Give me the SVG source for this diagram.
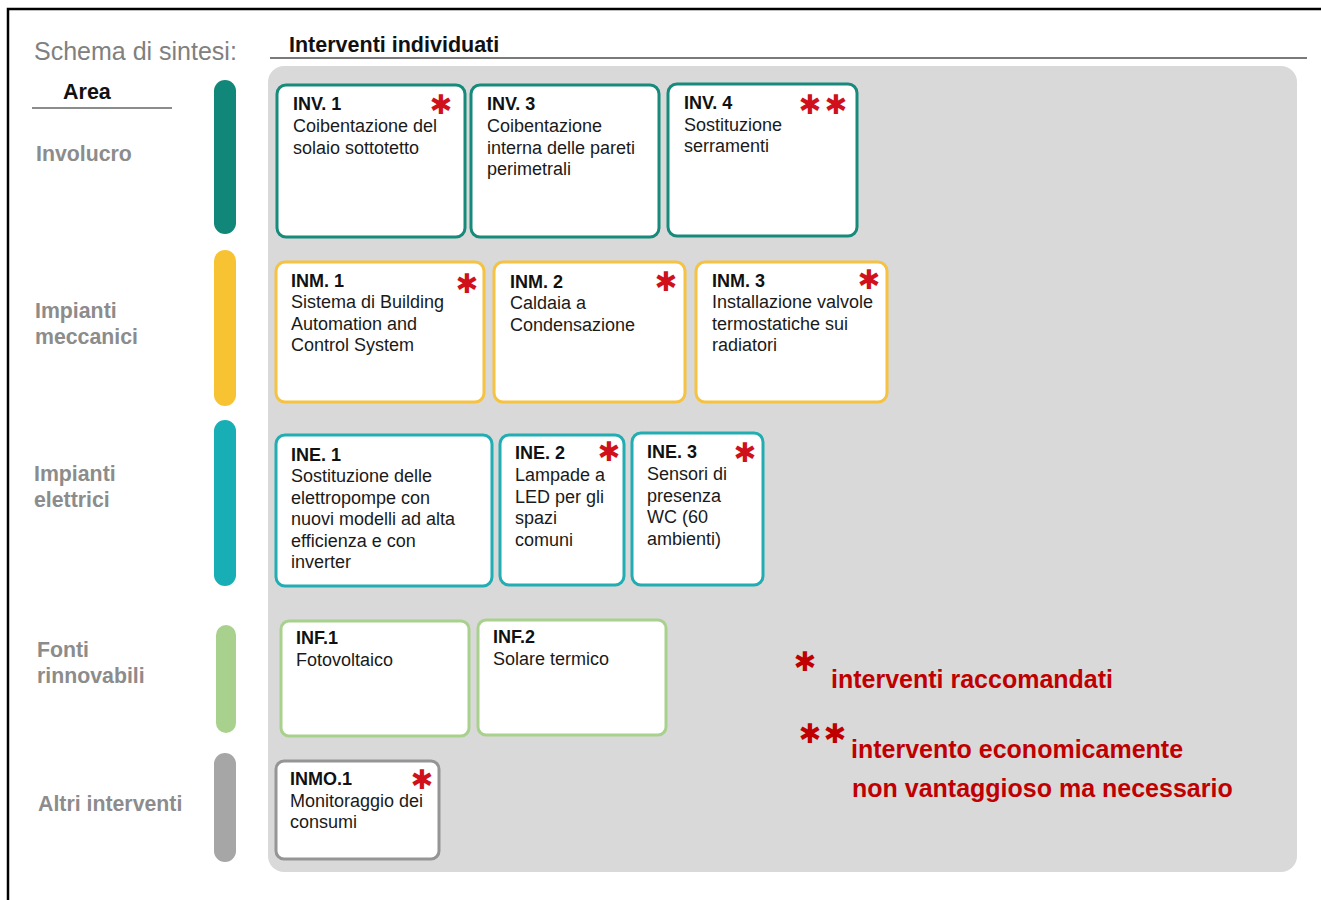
<svg xmlns="http://www.w3.org/2000/svg" width="1321" height="900" viewBox="0 0 1321 900">
<style>
text{font-family:"Liberation Sans",Arial,sans-serif}
.hdr{font-size:25px;fill:#808080}
.ttl{font-size:21.5px;font-weight:bold;fill:#111}
.area{font-size:21.3px;font-weight:bold;fill:#8c8c8c}
.b{font-size:18px;font-weight:bold;fill:#111}
.t{font-size:18px;fill:#1a1a1a}
.ast{font-family:"DejaVu Sans",sans-serif;font-size:27px;fill:#d0111b;text-anchor:middle;dominant-baseline:central}
.leg{font-size:25px;font-weight:bold;fill:#c00000}
.bx{fill:#fff;stroke-width:3}
.inv{stroke:#168a7b}.inm{stroke:#f5c242}.ine{stroke:#22adb3}.inf{stroke:#a9d18e}.inmo{stroke:#959595}
</style>
<rect width="1321" height="900" fill="#fff"/>
<path d="M8 900V9H1321" fill="none" stroke="#000" stroke-width="2.5"/>
<g id="header">
<text class="hdr" x="34" y="60">Schema di sintesi:</text>
<text class="ttl" x="289" y="52">Interventi individuati</text>
<line x1="270" y1="58" x2="1307" y2="58" stroke="#7a7a7a" stroke-width="2"/>
<text class="ttl" x="63" y="99">Area</text>
<line x1="32" y1="108" x2="172" y2="108" stroke="#666" stroke-width="1.5"/>
</g>
<rect id="panel" x="268" y="66" width="1029" height="806" rx="16" fill="#d9d9d9"/>
<g id="areas">
<rect x="214" y="80" width="22" height="154" rx="11" fill="#11877a"/>
<text class="area" x="36" y="161">Involucro</text>
<rect x="214" y="250" width="22" height="156" rx="11" fill="#f8c332"/>
<text class="area" x="35" y="318">Impianti</text>
<text class="area" x="35" y="344">meccanici</text>
<rect x="214" y="420" width="22" height="166" rx="11" fill="#17afb5"/>
<text class="area" x="34" y="481">Impianti</text>
<text class="area" x="34" y="507">elettrici</text>
<rect x="216" y="625" width="20" height="108" rx="10" fill="#a9d18e"/>
<text class="area" x="37" y="657">Fonti</text>
<text class="area" x="37" y="683">rinnovabili</text>
<rect x="214" y="753" width="22" height="109" rx="11" fill="#a6a6a6"/>
<text class="area" x="38" y="811">Altri interventi</text>
</g>
<g id="connectors"></g>
<g id="INV1"><rect class="bx inv" x="277" y="85" width="188" height="152" rx="9"/><text class="b" x="293" y="110">INV. 1</text><text class="t" x="293" y="132">Coibentazione del</text><text class="t" x="293" y="154">solaio sottotetto</text><text class="ast" x="441" y="104">✱</text></g>
<g id="INV3"><rect class="bx inv" x="471" y="85" width="188" height="152" rx="9"/><text class="b" x="487" y="110">INV. 3</text><text class="t" x="487" y="132">Coibentazione</text><text class="t" x="487" y="154">interna delle pareti</text><text class="t" x="487" y="175">perimetrali</text></g>
<g id="INV4"><rect class="bx inv" x="668" y="84" width="189" height="152" rx="9"/><text class="b" x="684" y="109">INV. 4</text><text class="t" x="684" y="131">Sostituzione</text><text class="t" x="684" y="152">serramenti</text><text class="ast" x="810" y="104">✱</text><text class="ast" x="836" y="104">✱</text></g>
<g id="INM1"><rect class="bx inm" x="276" y="262" width="208" height="140" rx="9"/><text class="b" x="291" y="287">INM. 1</text><text class="t" x="291" y="308">Sistema di Building</text><text class="t" x="291" y="330">Automation and</text><text class="t" x="291" y="351">Control System</text><text class="ast" x="467" y="283">✱</text></g>
<g id="INM2"><rect class="bx inm" x="494" y="262" width="191" height="140" rx="9"/><text class="b" x="510" y="288">INM. 2</text><text class="t" x="510" y="309">Caldaia a</text><text class="t" x="510" y="331">Condensazione</text><text class="ast" x="666" y="281">✱</text></g>
<g id="INM3"><rect class="bx inm" x="696" y="262" width="191" height="140" rx="9"/><text class="b" x="712" y="287">INM. 3</text><text class="t" x="712" y="308">Installazione valvole</text><text class="t" x="712" y="330">termostatiche sui</text><text class="t" x="712" y="351">radiatori</text><text class="ast" x="869" y="279">✱</text></g>
<g id="INE1"><rect class="bx ine" x="276" y="435" width="216" height="151" rx="9"/><text class="b" x="291" y="461">INE. 1</text><text class="t" x="291" y="482">Sostituzione delle</text><text class="t" x="291" y="504">elettropompe con</text><text class="t" x="291" y="525">nuovi modelli ad alta</text><text class="t" x="291" y="547">efficienza e con</text><text class="t" x="291" y="568">inverter</text></g>
<g id="INE2"><rect class="bx ine" x="500" y="435" width="124" height="150" rx="9"/><text class="b" x="515" y="459">INE. 2</text><text class="t" x="515" y="481">Lampade a</text><text class="t" x="515" y="503">LED per gli</text><text class="t" x="515" y="524">spazi</text><text class="t" x="515" y="546">comuni</text><text class="ast" x="609" y="451">✱</text></g>
<g id="INE3"><rect class="bx ine" x="632" y="433" width="131" height="152" rx="9"/><text class="b" x="647" y="458">INE. 3</text><text class="t" x="647" y="480">Sensori di</text><text class="t" x="647" y="502">presenza</text><text class="t" x="647" y="523">WC (60</text><text class="t" x="647" y="545">ambienti)</text><text class="ast" x="745" y="452">✱</text></g>
<g id="INF1"><rect class="bx inf" x="281" y="621" width="188" height="115" rx="8"/><text class="b" x="296" y="644">INF.1</text><text class="t" x="296" y="666">Fotovoltaico</text></g>
<g id="INF2"><rect class="bx inf" x="478" y="620" width="188" height="115" rx="8"/><text class="b" x="493" y="643">INF.2</text><text class="t" x="493" y="665">Solare termico</text></g>
<g id="INMO1"><rect class="bx inmo" x="276" y="761" width="163" height="98" rx="8"/><text class="b" x="290" y="785">INMO.1</text><text class="t" x="290" y="807">Monitoraggio dei</text><text class="t" x="290" y="828">consumi</text><text class="ast" x="422" y="779">✱</text></g>
<g id="legend">
<text class="ast" x="805" y="661" style="fill:#c00000">✱</text>
<text class="leg" x="831" y="688">interventi raccomandati</text>
<text class="ast" x="810" y="733" style="fill:#c00000">✱</text>
<text class="ast" x="835" y="733" style="fill:#c00000">✱</text>
<text class="leg" x="851" y="758">intervento economicamente</text>
<text class="leg" x="852" y="797">non vantaggioso ma necessario</text>
</g>
</svg>
